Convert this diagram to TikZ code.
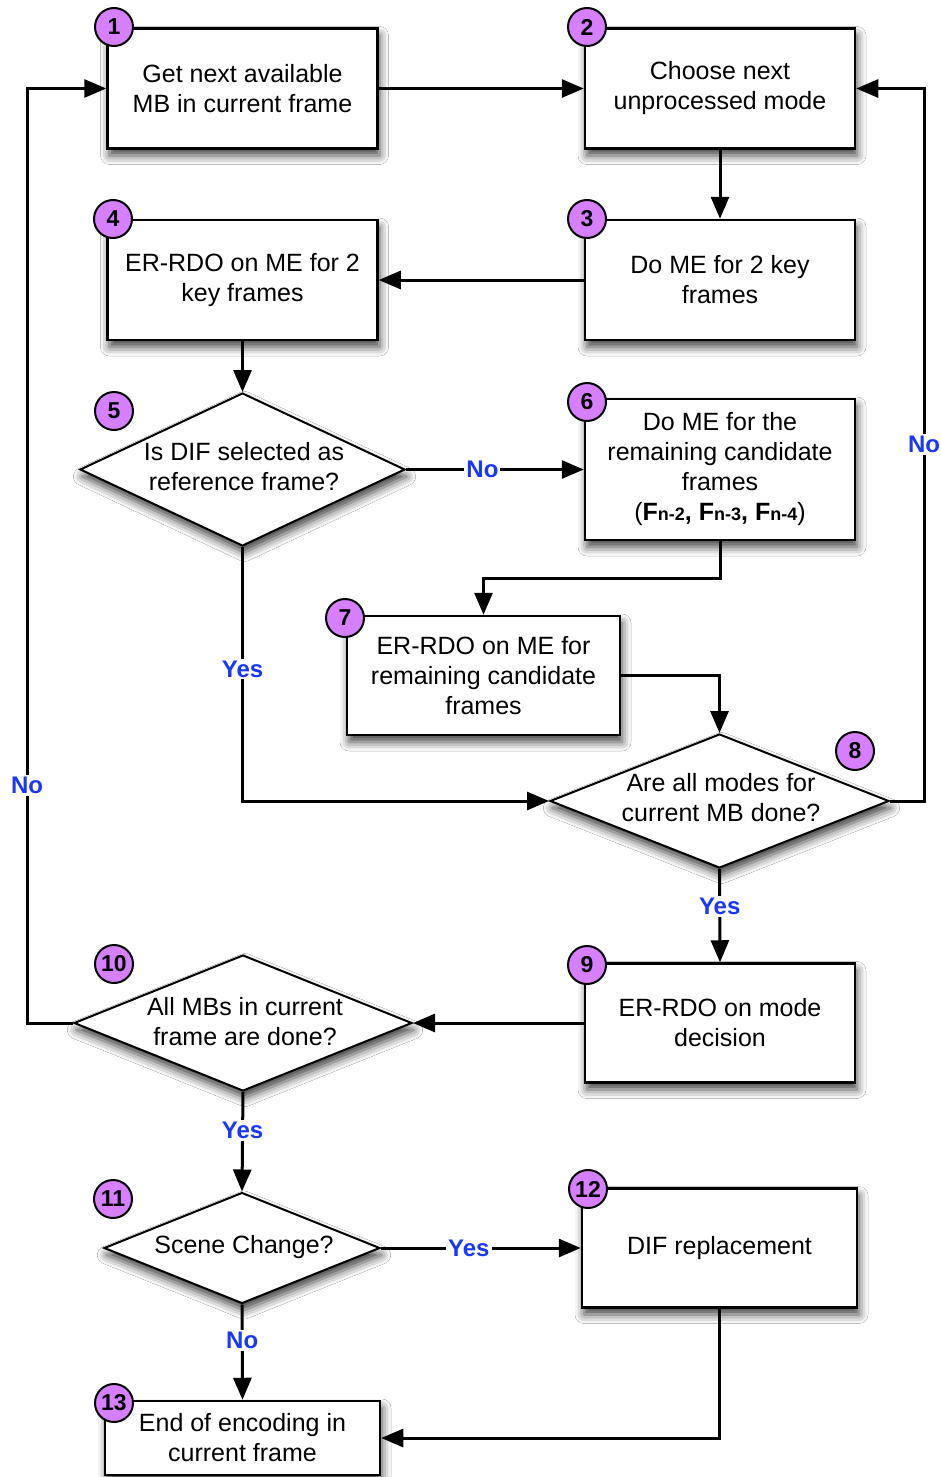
\documentclass[tikz,border=0pt]{standalone}
\usepackage{fontspec}
\setmainfont{Liberation Sans}
\usetikzlibrary{arrows.meta,shapes.geometric,shadows.blur}
\definecolor{badgefill}{RGB}{214,128,255}
\definecolor{labblue}{RGB}{25,55,255}

\tikzset{
  base/.style={font=\fontsize{25}{30}\selectfont, align=center},
  softshadow/.style={blur shadow={shadow xshift=2pt, shadow yshift=-7pt,
      shadow blur radius=9pt, shadow opacity=75}},
  procbox/.style={base, draw=black, line width=2.5pt, fill=white,
      minimum width=270pt, minimum height=120pt, inner sep=0pt, softshadow},
  decision/.style={diamond, draw=black, line width=2pt, fill=white,
      inner sep=0pt, softshadow},
  dtext/.style={base, inner sep=0pt},
  badge/.style={circle, draw=black, line width=2pt, fill=badgefill,
      minimum size=38pt, inner sep=0pt, font=\fontsize{23}{23}\selectfont\bfseries},
  flow/.style={line width=3pt, -{Triangle[length=22pt,width=18pt]}},
  lab/.style={font=\fontsize{24}{24}\selectfont\bfseries, text=labblue,
      fill=white, inner sep=2pt},
}

\begin{document}
\begin{tikzpicture}[x=1pt, y=-1pt]
\fill[white] (0,0) rectangle (940,1477);
\useasboundingbox (0,0) rectangle (940,1477);

% process boxes
\node[procbox] (b1) at (242.5,88.5) {Get next available\\MB in current frame};
\node[procbox] (b2) at (720,88.5) {Choose next\\unprocessed mode};
\node[procbox] (b3) at (720,280) {Do ME for 2 key\\frames};
\node[procbox] (b4) at (242.5,280) {ER-RDO on ME for 2\\key frames};
\node[procbox, minimum height=141pt] (b6) at (720,469.5)
  {Do ME for the\\remaining candidate\\frames\\(\textbf{F{\fontsize{18}{18}\selectfont n-2}, F{\fontsize{18}{18}\selectfont n-3}, F{\fontsize{18}{18}\selectfont n-4}})};
\node[procbox, minimum width=273pt, minimum height=119pt] (b7) at (483.5,675.5)
  {ER-RDO on ME for\\remaining candidate\\frames};
\node[procbox, minimum height=119pt] (b9) at (720,1023) {ER-RDO on mode\\decision};
\node[procbox, minimum width=275pt, minimum height=119pt] (b12) at (719.5,1248) {DIF replacement};
\node[procbox, minimum width=275pt, minimum height=74pt] (b13) at (242.5,1438) {End of encoding in\\current frame};

% decisions
\node[decision, minimum width=325pt, minimum height=153pt] (d5) at (242.5,469.5) {};
\node[dtext] at (244,467) {Is DIF selected as\\reference frame?};
\node[decision, minimum width=339pt, minimum height=134pt] (d8) at (719.5,801) {};
\node[dtext] at (721,798) {Are all modes for\\current MB done?};
\node[decision, minimum width=338pt, minimum height=136pt] (d10) at (243,1023) {};
\node[dtext] at (245,1022) {All MBs in current\\frame are done?};
\node[decision, minimum width=276pt, minimum height=111pt] (d11) at (242,1248) {};
\node[dtext] at (244,1247) {Scene Change?};

% connectors
\draw[flow] (b1.east) -- (b2.west);
\draw[flow] (b2.south) -- (b3.north);
\draw[flow] (b3.west) -- (b4.east);
\draw[flow] (b4.south) -- (d5.north);
\draw[flow] (d5.east) -- node[lab, pos=0.43] {No} (b6.west);
\draw[flow] (d5.south) |- node[lab, pos=0.24] {Yes} (d8.west);
\draw[flow] (b6.south) -- ++(0,37) -| (b7.north);
\draw[flow] (b7.east) -| (d8.north);
\draw[flow] (d8.east) -- ++(34,0) |- node[lab, pos=0.25] {No} (b2.east);
\draw[flow] (d8.south) -- node[lab, pos=0.4] {Yes} (b9.north);
\draw[flow] (b9.west) -- (d10.east);
\draw[flow] (d10.west) -- ++(-46,0) |- node[lab, pos=0.127] {No} (b1.west);
\draw[flow] (d10.south) -- node[lab, pos=0.39] {Yes} (d11.north);
\draw[flow] (d11.east) -- node[lab, pos=0.44] {Yes} (b12.west);
\draw[flow] (d11.south) -- node[lab, pos=0.38] {No} (b13.north);
\draw[flow] (b12.south) |- (b13.east);

% step numbers
\node[badge] (n1) at (114,27) {1};
\node[badge] (n2) at (587,27) {2};
\node[badge] (n3) at (587,219) {3};
\node[badge] (n4) at (113,219) {4};
\node[badge] (n5) at (114,411) {5};
\node[badge] (n6) at (587,402) {6};
\node[badge] (n7) at (345,618) {7};
\node[badge] (n8) at (855,751) {8};
\node[badge] (n9) at (587,965) {9};
\node[badge] (n10) at (114,964) {10};
\node[badge] (n11) at (113,1199) {11};
\node[badge] (n12) at (588,1189) {12};
\node[badge] (n13) at (114,1403) {13};
\end{tikzpicture}
\end{document}
